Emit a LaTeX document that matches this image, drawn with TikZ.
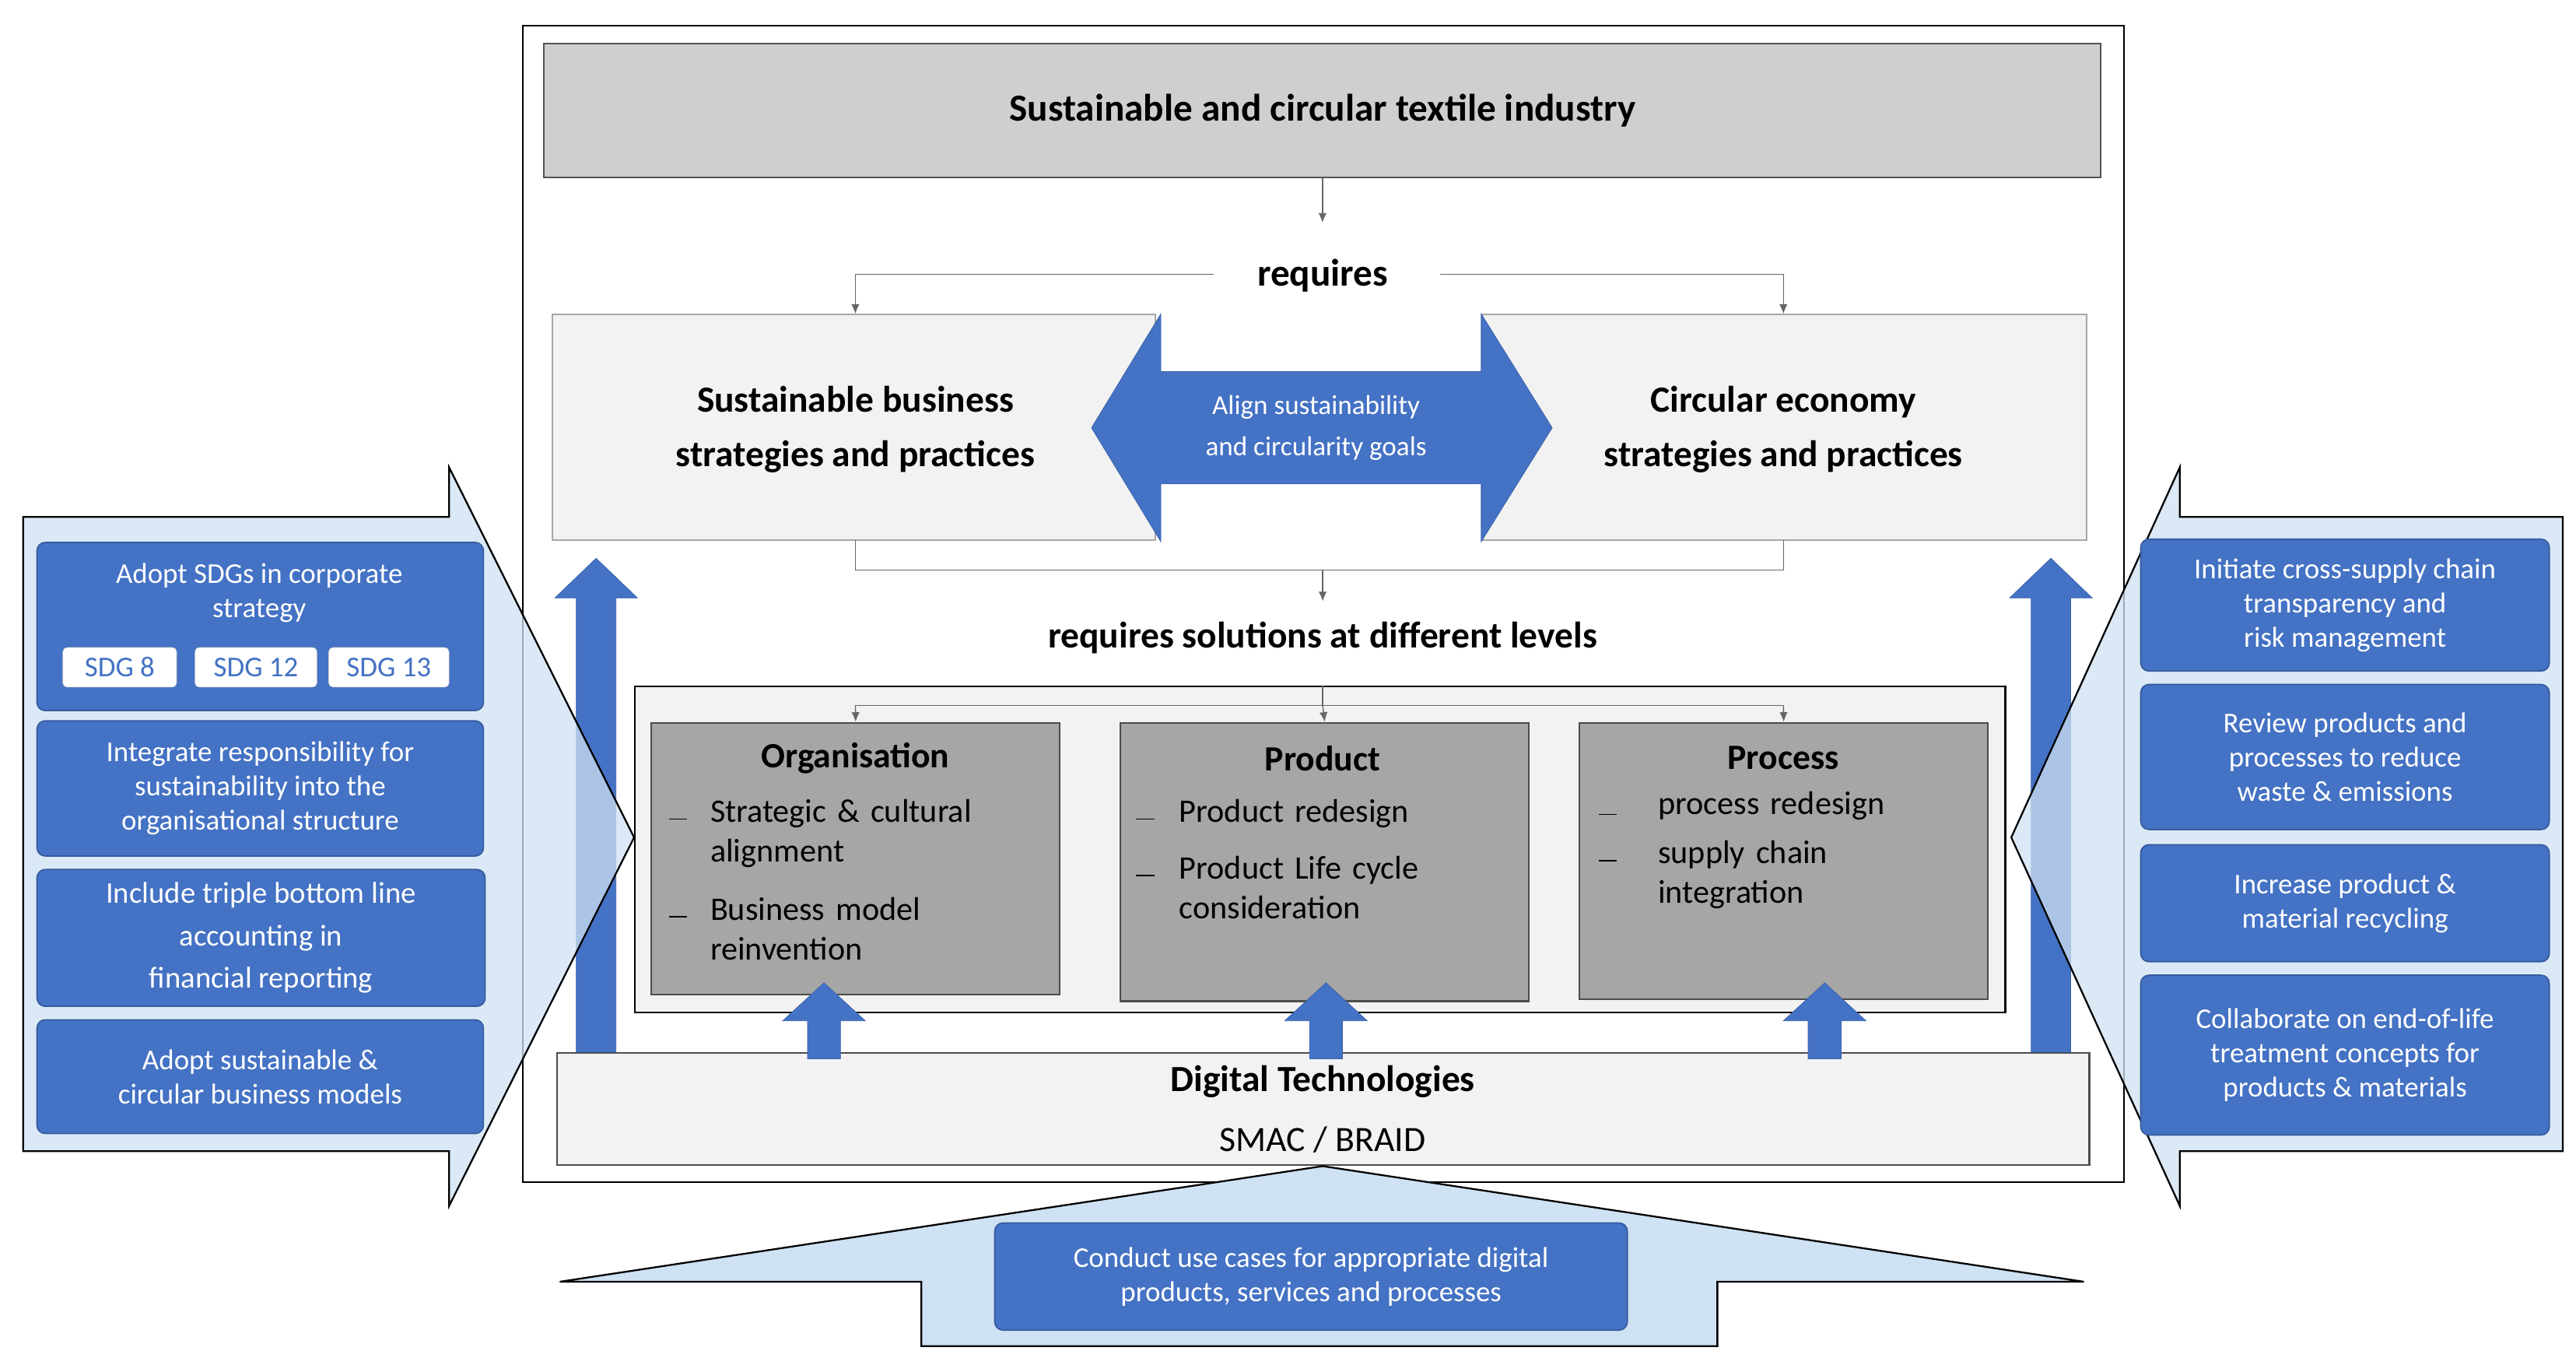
\documentclass[tikz,border=0pt]{standalone}
\usepackage{fontspec}
\setmainfont{Carlito}
\usetikzlibrary{arrows.meta}
\begin{document}
\begin{tikzpicture}[x=0.04244cm,y=-0.04244cm,
  blu/.style={fill=bl,draw=bl!80!black,rounded corners=6pt,line width=1pt},
  bt/.style={text=white,align=center,font=\fontsize{21}{25}\selectfont},
  conn/.style={draw=gray!80!black,line width=0.8pt},
  tip/.style={-{Latex[length=7pt,width=6pt]},draw=gray!80!black,line width=0.8pt},
  bigup/.style={fill=bl,draw=bl!85!black},
  lvl/.style={fill=lvg,draw=gray!60!black,line width=1.2pt},
  item/.style={anchor=north west,align=left,font=\fontsize{24}{29}\selectfont,text width=259pt,inner sep=0pt}]
\definecolor{bl}{HTML}{4472C4}
\definecolor{lb}{HTML}{CFE2F3}
\definecolor{lvg}{HTML}{A6A6A6}
\definecolor{pg}{HTML}{F2F2F2}
\useasboundingbox (0,0) rectangle (1560,826);
% outer
\node[draw,line width=1.2pt,minimum width=1170.8pt,minimum height=845.6pt,anchor=north west,inner sep=0] (outer) at (316,15) {};
\node[fill=gray!38,draw=gray!65!black,line width=1.2pt,minimum width=1138.3pt,minimum height=97.6pt,anchor=north west,font=\bfseries\fontsize{28}{32}\selectfont] (top) at (329,26) {Sustainable and circular textile industry};
\node[font=\bfseries\fontsize{28}{32}\selectfont] (req) at (801,167) {requires};
\draw[tip] (top.south) -- ++(0,27);
% strategies
\node[fill=pg,draw=gray!70,line width=1pt,minimum width=440.8pt,minimum height=165pt,anchor=north west] (sb) at (334,190) {};
\node[fill=pg,draw=gray!70,line width=1pt,minimum width=442pt,minimum height=165pt,anchor=north west] (ce) at (897,190) {};
\node[align=center,font=\bfseries\fontsize{27}{40}\selectfont] at (518,260) {Sustainable business\\strategies and practices};
\node[align=center,font=\bfseries\fontsize{27}{40}\selectfont] at (1080,260) {Circular economy\\strategies and practices};
\draw[conn] (735,166) -| (518,180); \draw[tip] (518,175) -- (518,190);
\draw[conn] (872,166) -| (1080,180); \draw[tip] (1080,175) -- (1080,190);
\path[fill=bl,draw=bl!85!black] (661,259) -- (703,190) -- (703,225) -- (897,225) -- (897,190) -- (940,259) -- (897,328) -- (897,293) -- (703,293) -- (703,328) -- cycle;
\node[text=white,align=center,font=\fontsize{20}{30}\selectfont] (align) at (797,259) {Align sustainability\\and circularity goals};
% requires solutions
\draw[conn] (518,327) -- (518,345) -- (1080,345) -- (1080,327);
\draw[tip] (801,345) -- (801,364);
\node[font=\bfseries\fontsize{27}{32}\selectfont] (rs) at (801,386) {requires solutions at different levels};
\node[fill=pg,draw=black,line width=1.2pt,minimum width=1002pt,minimum height=238.5pt,anchor=north west] (cont) at (384,415) {};
\draw[conn] (518,427) -- (1080,427);
\draw[conn] (801,415) -- (801,427);
\node[lvl,minimum width=298.7pt,minimum height=198.7pt,anchor=north west] (org) at (394,437) {};
\node[lvl,minimum width=298.7pt,minimum height=203.6pt,anchor=north west] (prod) at (678,437) {};
\node[lvl,minimum width=298.7pt,minimum height=202.4pt,anchor=north west] (proc) at (956,437) {};
\draw[tip] (518,427) -- (org.north);
\draw[tip] (801,427) -- (prod.north);
\draw[tip] (1080,427) -- (proc.north);
\node[font=\bfseries\fontsize{26}{30}\selectfont] at (518,459) {Organisation};
\node[font=\bfseries\fontsize{26}{30}\selectfont] at (801,459) {Product};
\node[font=\bfseries\fontsize{26}{30}\selectfont] at (1080,459) {Process};
\node[item] at (430,484) {Strategic \& cultural\\alignment};
\node[item] at (430,543) {Business model\\reinvention};
\node[item] at (714,484) {Product redesign};
\node[item] at (714,518) {Product Life cycle\\consideration};
\node[item] at (1004,479) {process redesign};
\node[item] at (1004,509) {supply chain\\integration};
\foreach \x/\y in {405/496,405/555,688/496,688/530,968/493,968/521} \draw[line width=0.8pt] (\x,\y) -- ++(11,0);
% digital
\node[fill=pg,draw=gray!60!black,line width=1.2pt,minimum width=1120.2pt,minimum height=81.9pt,anchor=north west] (dig) at (337,637) {};
\node[font=\bfseries\fontsize{27}{30}\selectfont] at (801,655) {Digital Technologies};
\node[font=\fontsize{26}{30}\selectfont] at (801,690) {SMAC / BRAID};
% small up arrows
\foreach \x in {499,803,1105} \path[bigup] (\x-10,641) -- (\x-10,618) -- (\x-25,618) -- (\x,595) -- (\x+25,618) -- (\x+10,618) -- (\x+10,641) -- cycle;
% big up arrows
\foreach \x in {361,1242} \path[bigup] (\x-12,637) -- (\x-12,362) -- (\x-25,362) -- (\x,338) -- (\x+25,362) -- (\x+12,362) -- (\x+12,637) -- cycle;
% left panel
\path[fill=lb,fill opacity=0.75,draw=black,line width=1.3pt] (14,313) -- (272,313) -- (272,283) -- (384,507) -- (272,730) -- (272,697) -- (14,697) -- cycle;
\node[blu,minimum width=326.4pt,minimum height=122.9pt,anchor=north west] (l1) at (22,328) {};
\node[bt] at (157,359) {Adopt SDGs in corporate\\strategy};
\foreach \a/\b/\t in {38/107/SDG 8,118/192/SDG 12,199/272/SDG 13}
  \node[fill=white,draw=gray!40,rounded corners=3pt,text=bl,font=\fontsize{21}{25}\selectfont,minimum width={(\b-\a)*1.2045pt},minimum height=28.9pt,inner sep=0] at ({(\a+\b)/2},404) {\t};
\node[blu,minimum width=326.4pt,minimum height=98.8pt,anchor=north west,bt] (l2) at (22,436) {Integrate responsibility for\\sustainability into the\\organisational structure};
\node[blu,minimum width=327.6pt,minimum height=100pt,anchor=north west,bt,font=\fontsize{22}{31}\selectfont] (l3) at (22,526) {Include triple bottom line\\accounting in\\financial reporting};
\node[blu,minimum width=326.4pt,minimum height=83.1pt,anchor=north west,bt] (l4) at (22,617) {Adopt sustainable \&\\circular business models};
% right panel
\path[fill=lb,fill opacity=0.75,draw=black,line width=1.3pt] (1552,313) -- (1320,313) -- (1320,283) -- (1218,507) -- (1320,730) -- (1320,697) -- (1552,697) -- cycle;
\node[blu,minimum width=298.7pt,minimum height=96.4pt,anchor=north west,bt] (r1) at (1296,326) {Initiate cross-supply chain\\transparency and\\risk management};
\node[blu,minimum width=298.7pt,minimum height=106pt,anchor=north west,bt] (r2) at (1296,414) {Review products and\\processes to reduce\\waste \& emissions};
\node[blu,minimum width=298.7pt,minimum height=85.5pt,anchor=north west,bt] (r3) at (1296,511) {Increase product \&\\material recycling};
\node[blu,minimum width=298.7pt,minimum height=116.8pt,anchor=north west,bt] (r4) at (1296,590) {Collaborate on end-of-life\\treatment concepts for\\products \& materials};
% bottom panel
\path[fill=lb,draw=black,line width=1.3pt] (801,706) -- (1262,776) -- (1040,776) -- (1040,815) -- (558,815) -- (558,776) -- (339,776) -- cycle;
\node[blu,minimum width=462.5pt,minimum height=78.3pt,bt,anchor=north west] (b1) at (602,740) {Conduct use cases for appropriate digital\\products, services and processes};
\end{tikzpicture}
\end{document}
